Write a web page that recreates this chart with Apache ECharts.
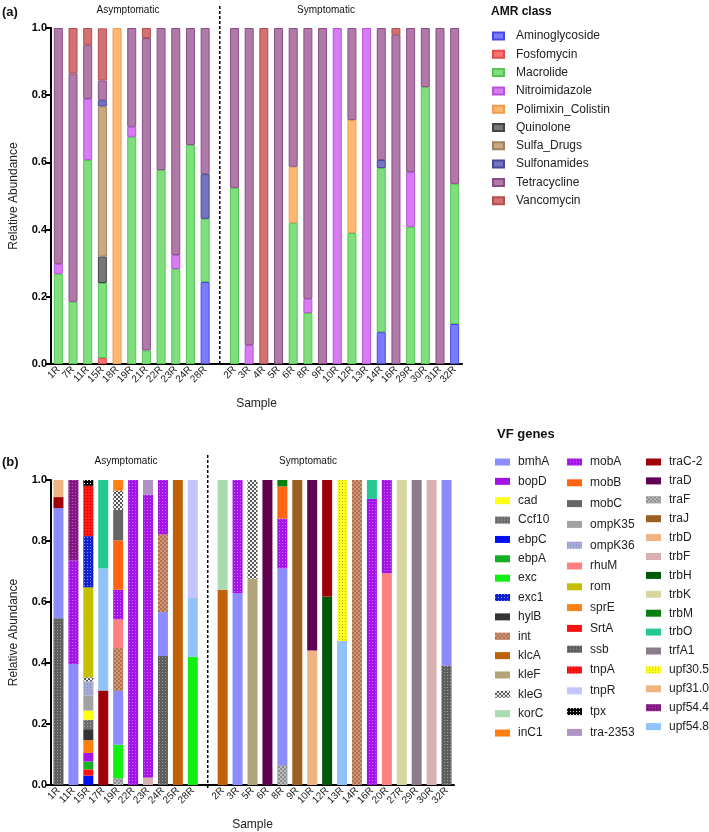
<!DOCTYPE html>
<html>
<head>
<meta charset="utf-8">
<script src="https://cdn.jsdelivr.net/npm/echarts@6/dist/echarts.min.js"></script>
<style>
html, body { margin: 0; background: #fff; }
#chart { width: 709px; height: 832px; }
</style>
</head>
<body>
<div id="chart"></div>
<script>
// ---- panel (a): AMR classes ----
const samplesA_asym = ['1R', '7R', '11R', '15R', '18R', '19R', '21R', '22R', '23R', '24R', '28R']
const samplesA_sym = ['2R', '3R', '4R', '5R', '6R', '8R', '9R', '10R', '12R', '13R', '14R', '16R', '29R', '30R', '31R', '32R']

// values: asymptomatic (11) then symptomatic (16)
const aminoglycoside = [0, 0, 0, 0, 0, 0, 0, 0, 0, 0, 0.244, 0, 0, 0, 0, 0, 0, 0, 0, 0, 0, 0.095, 0, 0, 0, 0, 0.119]
const fosfomycin = [0, 0, 0, 0.018, 0, 0, 0, 0, 0, 0, 0, 0, 0, 0, 0, 0, 0, 0, 0, 0, 0, 0, 0, 0, 0, 0, 0]
const macrolide = [0.268, 0.185, 0.607, 0.223, 0, 0.676, 0.04, 0.577, 0.283, 0.652, 0.188, 0.524, 0, 0, 0, 0.42, 0.152, 0, 0, 0.39, 0, 0.488, 0, 0.408, 0.824, 0, 0.417]
const nitroimidazole = [0.03, 0, 0.182, 0, 0, 0.03, 0, 0, 0.041, 0, 0, 0, 0.056, 0, 0, 0, 0.042, 0, 1, 0, 1, 0, 0, 0.163, 0, 0, 0]
const polimixin = [0, 0, 0, 0, 1, 0, 0, 0, 0, 0, 0, 0, 0, 0, 0, 0.167, 0, 0, 0, 0.336, 0, 0, 0, 0, 0, 0, 0]
const quinolone = [0, 0, 0, 0.079, 0, 0, 0, 0, 0, 0, 0, 0, 0, 0, 0, 0, 0, 0, 0, 0, 0, 0, 0, 0, 0, 0, 0]
const sulfaDrugs = [0, 0, 0, 0.447, 0, 0, 0, 0, 0, 0, 0, 0, 0, 0, 0, 0, 0, 0, 0, 0, 0, 0, 0, 0, 0, 0, 0]
const sulfonamides = [0, 0, 0, 0.018, 0, 0, 0, 0, 0, 0, 0.133, 0, 0, 0, 0, 0, 0, 0, 0, 0, 0, 0.024, 0, 0, 0, 0, 0]
const tetracycline = [0.702, 0.68, 0.161, 0.059, 0, 0.294, 0.93, 0.423, 0.676, 0.348, 0.435, 0.476, 0.944, 0, 1, 0.413, 0.806, 1, 0, 0.274, 0, 0.393, 0.98, 0.429, 0.176, 1, 0.464]
const vancomycin = [0, 0.135, 0.05, 0.155, 0, 0, 0.03, 0, 0, 0, 0, 0, 0, 1, 0, 0, 0, 0, 0, 0, 0, 0, 0.02, 0, 0, 0, 0]

const amrClasses = [
  ['Aminoglycoside', aminoglycoside, '#7b7bff', '#4848e0'],
  ['Fosfomycin', fosfomycin, '#ff7272', '#e04c4c'],
  ['Macrolide', macrolide, '#7edf7c', '#55c455'],
  ['Nitroimidazole', nitroimidazole, '#d87cf2', '#b652dc'],
  ['Polimixin_Colistin', polimixin, '#ffb872', '#f09c4c'],
  ['Quinolone', quinolone, '#777777', '#444444'],
  ['Sulfa_Drugs', sulfaDrugs, '#c9a984', '#a08060'],
  ['Sulfonamides', sulfonamides, '#7474c2', '#46469a'],
  ['Tetracycline', tetracycline, '#b07aa8', '#8a4c88'],
  ['Vancomycin', vancomycin, '#d27272', '#b44e4e']
]

// ---- panel (b): VF genes, each sample listed bottom to top ----
const samplesB_asym = ['1R', '11R', '15R', '17R', '19R', '22R', '23R', '24R', '25R', '28R']
const samplesB_sym = ['2R', '3R', '5R', '6R', '8R', '9R', '10R', '12R', '13R', '14R', '16R', '20R', '27R', '29R', '30R', '32R']

const vf1R = [['ssb', 0.547], ['bmhA', 0.361], ['traC-2', 0.036], ['upf31.0', 0.056]]
const vf11R = [['bmhA', 0.397], ['mobA', 0.339], ['upf54.4', 0.264]]
const vf15R = [['ebpC', 0.031], ['SrtA', 0.02], ['ebpA', 0.026], ['bopD', 0.028], ['inC1', 0.042], ['hylB', 0.036], ['Ccf10', 0.031], ['cad', 0.03], ['ompK35', 0.05], ['ompK36', 0.046], ['kleG', 0.013], ['rom', 0.295], ['exc1', 0.168], ['tnpA', 0.165], ['tpx', 0.019]]
const vf17R = [['traC-2', 0.31], ['upf54.8', 0.40], ['trbO', 0.29]]
const vf19R = [['traF', 0.022], ['exc', 0.11], ['bmhA', 0.177], ['int', 0.14], ['rhuM', 0.094], ['mobA', 0.097], ['mobB', 0.162], ['mobC', 0.1], ['kleG', 0.063], ['sprE', 0.035]]
const vf22R = [['mobA', 1]]
const vf23R = [['trbF', 0.025], ['mobA', 0.926], ['tra-2353', 0.049]]
const vf24R = [['ssb', 0.423], ['bmhA', 0.144], ['int', 0.255], ['mobA', 0.178]]
const vf25R = [['klcA', 1]]
const vf28R = [['exc', 0.42], ['upf54.8', 0.193], ['tnpR', 0.387]]
const vf2R = [['klcA', 0.64], ['korC', 0.36]]
const vf3R = [['bmhA', 0.629], ['mobA', 0.371]]
const vf5R = [['kleF', 0.676], ['kleG', 0.324]]
const vf6R = [['traD', 1]]
const vf8R = [['traF', 0.065], ['bmhA', 0.645], ['mobA', 0.163], ['mobB', 0.106], ['trbM', 0.021]]
const vf9R = [['traJ', 1]]
const vf10R = [['trbD', 0.441], ['traD', 0.559]]
const vf12R = [['trbH', 0.618], ['traC-2', 0.382]]
const vf13R = [['upf54.8', 0.472], ['upf30.5', 0.528]]
const vf14R = [['int', 1]]
const vf16R = [['mobA', 0.938], ['trbO', 0.062]]
const vf20R = [['rhuM', 0.694], ['mobA', 0.306]]
const vf27R = [['trbK', 1]]
const vf29R = [['trfA1', 1]]
const vf30R = [['trbF', 1]]
const vf32R = [['ssb', 0.392], ['bmhA', 0.608]]

const vfAsym = [vf1R, vf11R, vf15R, vf17R, vf19R, vf22R, vf23R, vf24R, vf25R, vf28R]
const vfSym = [vf2R, vf3R, vf5R, vf6R, vf8R, vf9R, vf10R, vf12R, vf13R, vf14R, vf16R, vf20R, vf27R, vf29R, vf30R, vf32R]

// legend columns as in the figure
const legendCol1 = ['bmhA', 'bopD', 'cad', 'Ccf10', 'ebpC', 'ebpA', 'exc', 'exc1', 'hylB', 'int', 'klcA', 'kleF', 'kleG', 'korC', 'inC1']
const legendCol2 = ['mobA', 'mobB', 'mobC', 'ompK35', 'ompK36', 'rhuM', 'rom', 'sprE', 'SrtA', 'ssb', 'tnpA', 'tnpR', 'tpx', 'tra-2353']
const legendCol3 = ['traC-2', 'traD', 'traF', 'traJ', 'trbD', 'trbF', 'trbH', 'trbK', 'trbM', 'trbO', 'trfA1', 'upf30.5', 'upf31.0', 'upf54.4', 'upf54.8']

// order of the segments in the stacks (bottom first)
const stackOrder = ['trbF', 'traF', 'ssb', 'klcA', 'kleF', 'trbH', 'trbD', 'ebpC', 'SrtA', 'ebpA', 'bopD', 'inC1', 'hylB', 'Ccf10', 'cad', 'ompK35', 'ompK36', 'exc', 'bmhA', 'int', 'rhuM', 'mobA', 'mobB', 'mobC', 'kleG', 'sprE', 'rom', 'exc1', 'tnpA', 'tpx', 'traC-2', 'upf54.8', 'upf30.5', 'tnpR', 'upf31.0', 'upf54.4', 'trbM', 'trbO', 'tra-2353', 'korC', 'traD', 'traJ', 'trbK', 'trfA1']

const FONT = 'Liberation Sans, Arial, Helvetica, sans-serif'

const dots = (c) => ({ symbol: 'rect', symbolSize: 1, color: c, dashArrayX: [1, 2], dashArrayY: [1, 2] })
const checker = (c) => ({ symbol: 'rect', symbolSize: 1, color: c, dashArrayX: [[2, 2], [0, 2, 2, 0]], dashArrayY: [2, 0] })

const geneStyle = {
  'bmhA': { color: '#8c8cff' },
  'bopD': { color: '#a414e6' },
  'cad': { color: '#ffff10' },
  'Ccf10': { color: '#6c6c6c', decal: dots('#a8a8a8') },
  'ebpC': { color: '#0010f0' },
  'ebpA': { color: '#10b020' },
  'exc': { color: '#12f012' },
  'exc1': { color: '#1020d0', decal: dots('#8090ff') },
  'hylB': { color: '#333333' },
  'int': { color: '#b07050', decal: checker('#d09878') },
  'klcA': { color: '#c06008' },
  'kleF': { color: '#b0a478' },
  'kleG': { color: '#f4f4f4', decal: checker('#555555') },
  'korC': { color: '#a8dcb0' },
  'inC1': { color: '#ff7e10' },
  'mobA': { color: '#a414e6', decal: dots('#cc66ff') },
  'mobB': { color: '#ff6410' },
  'mobC': { color: '#666666' },
  'ompK35': { color: '#a2a2a2' },
  'ompK36': { color: '#a6aad6', decal: dots('#8088b8') },
  'rhuM': { color: '#ff8080' },
  'rom': { color: '#c4c000' },
  'sprE': { color: '#ff8214' },
  'SrtA': { color: '#ff1010' },
  'ssb': { color: '#5e5e5e', decal: dots('#9c9c9c') },
  'tnpA': { color: '#ff1818', decal: dots('#b00000') },
  'tnpR': { color: '#c4c4ff' },
  'tpx': { color: '#000000', decal: dots('#ffffff') },
  'tra-2353': { color: '#b094c4' },
  'traC-2': { color: '#a00008' },
  'traD': { color: '#600050' },
  'traF': { color: '#8c8c8c', decal: checker('#bcbcbc') },
  'traJ': { color: '#9c6020' },
  'trbD': { color: '#f0b482' },
  'trbF': { color: '#d8b0b0' },
  'trbH': { color: '#005808' },
  'trbK': { color: '#d8d6a0' },
  'trbM': { color: '#088010' },
  'trbO': { color: '#24c890' },
  'trfA1': { color: '#8a7c8a' },
  'upf30.5': { color: '#ffff20', decal: dots('#b0b000') },
  'upf31.0': { color: '#f0b482' },
  'upf54.4': { color: '#801a80', decal: dots('#c050c0') },
  'upf54.8': { color: '#92c2fa' }
}

const GAP = ' ' // empty slot where the dashed divider sits
const catsA = [...samplesA_asym, GAP, ...samplesA_sym]
const catsB = [...samplesB_asym, GAP, ...samplesB_sym]

const seriesA = amrClasses.map(([name, vals, fill, border]) => {
  const data = vals.map(v => (v > 0 ? v : '-'))
  data.splice(samplesA_asym.length, 0, '-')
  return {
    name,
    type: 'bar',
    stack: 'amr',
    xAxisIndex: 0,
    yAxisIndex: 0,
    barWidth: 9,
    data,
    itemStyle: { color: fill, borderColor: border, borderWidth: 1 }
  }
})

const compositions = [...vfAsym, null, ...vfSym]
const seriesB = stackOrder.map(gene => ({
  name: gene,
  type: 'bar',
  stack: 'vf',
  xAxisIndex: 1,
  yAxisIndex: 1,
  barWidth: 10,
  data: compositions.map(comp => {
    if (!comp) return '-'
    const seg = comp.find(s => s[0] === gene)
    return seg ? seg[1] : '-'
  }),
  itemStyle: geneStyle[gene]
}))

const yAxis = (gridIndex) => ({
  type: 'value',
  gridIndex,
  min: 0,
  max: 1,
  interval: 0.2,
  name: 'Relative Abundance',
  nameLocation: 'middle',
  nameGap: 31,
  nameTextStyle: { fontFamily: FONT, fontSize: 12, color: '#222' },
  axisLine: { show: true, lineStyle: { color: '#000', width: 2 } },
  axisTick: { show: true, length: 5, lineStyle: { color: '#000', width: 2 } },
  axisLabel: { formatter: v => v.toFixed(1), fontFamily: FONT, fontWeight: 'bold', fontSize: 11, color: '#000', margin: 4 },
  splitLine: { show: false }
})

const xAxis = (gridIndex, data) => ({
  type: 'category',
  gridIndex,
  data,
  name: 'Sample',
  nameLocation: 'middle',
  nameGap: 34,
  nameTextStyle: { fontFamily: FONT, fontSize: 12, color: '#222' },
  axisLine: { lineStyle: { color: '#000', width: 2 } },
  axisTick: { show: false },
  axisLabel: { interval: 0, rotate: 45, fontFamily: FONT, fontSize: 10, color: '#222', margin: 4 }
})

const legendText = (padLeft) => ({ fontFamily: FONT, fontSize: 12, lineHeight: 14, color: '#222', padding: [0, 0, 0, padLeft] })
const geneLegend = (left, gap, data) => ({
  orient: 'vertical', left, top: 455, padding: 0, itemWidth: 15, itemHeight: 7, itemGap: gap,
  icon: 'rect', selectedMode: false, textStyle: legendText(3), data
})

const chart = echarts.init(document.getElementById('chart'))

chart.setOption({
  animation: false,
  backgroundColor: '#fff',
  grid: [
    { left: 40, top: 28, width: 422, height: 336 },
    { left: 41, top: 480, width: 413, height: 309 }
  ],
  xAxis: [xAxis(0, catsA), xAxis(1, catsB)],
  yAxis: [yAxis(0), yAxis(1)],
  legend: [
    {
      orient: 'vertical', left: 492, top: 29, padding: 0, itemWidth: 11, itemHeight: 7, itemGap: 4.3,
      icon: 'rect', selectedMode: false, textStyle: legendText(7),
      data: amrClasses.map(c => c[0])
    },
    geneLegend(495, 5.36, legendCol1),
    geneLegend(567, 6.8, legendCol2),
    geneLegend(646, 4.9, legendCol3)
  ],
  series: [...seriesA, ...seriesB]
})

// panel labels, group headers and dashed dividers
const xa = chart.convertToPixel({ xAxisIndex: 0 }, GAP)
const xb = chart.convertToPixel({ xAxisIndex: 1 }, GAP)
const txt = (x, y, text, size, bold, align) => ({
  type: 'text', x, y,
  style: { text, font: (bold ? 'bold ' : '') + size + 'px ' + FONT, fill: '#111', align: align || 'center', verticalAlign: 'middle' }
})
const dash = (x, y1, y2) => ({
  type: 'line', shape: { x1: x, y1, x2: x, y2 },
  style: { stroke: '#000', lineWidth: 1.5, lineDash: [3, 2] }
})

chart.setOption({
  graphic: [
    txt(2, 12, '(a)', 13, true, 'left'),
    txt(128, 10, 'Asymptomatic', 10),
    txt(326, 10, 'Symptomatic', 10),
    txt(491, 12, 'AMR class', 12, true, 'left'),
    dash(xa, 6, 364),
    txt(2, 462, '(b)', 13, true, 'left'),
    txt(126, 461, 'Asymptomatic', 10),
    txt(308, 461, 'Symptomatic', 10),
    txt(497, 434, 'VF genes', 13, true, 'left'),
    dash(xb, 455, 789)
  ]
})
</script>
</body>
</html>
